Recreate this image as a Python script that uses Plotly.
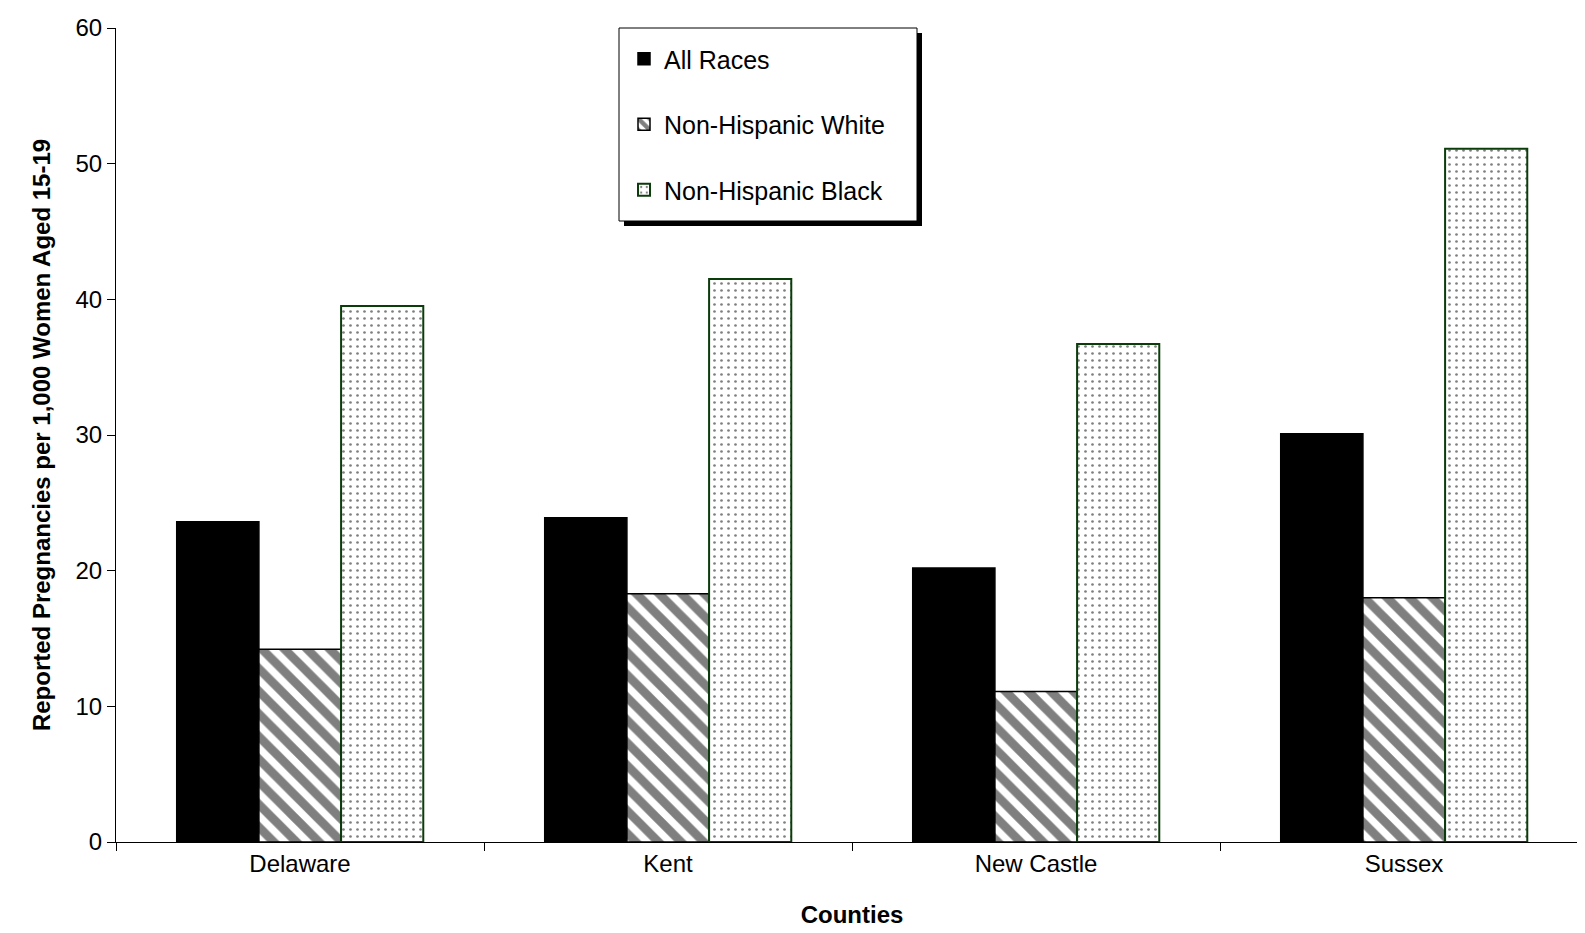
import plotly.graph_objects as go

counties = ["Delaware", "Kent", "New Castle", "Sussex"]
all_races = [23.6, 23.9, 20.2, 30.1]
nh_white = [14.2, 18.3, 11.1, 18.0]
nh_black = [39.5, 41.5, 36.7, 51.1]

fig = go.Figure()
fig.add_trace(go.Bar(x=counties, y=all_races, name="All Races", legendgroup="a",
                     marker=dict(color="black", line=dict(color="black", width=1.5))))
fig.add_trace(go.Bar(x=counties, y=nh_white, name="Non-Hispanic White", legendgroup="b",
                     marker=dict(color="white", line=dict(color="black", width=1.5),
                                 pattern=dict(shape="\\", fgcolor="black", bgcolor="white",
                                              size=16, solidity=0.55))))
fig.add_trace(go.Bar(x=counties, y=nh_black, name="Non-Hispanic Black", legendgroup="c",
                     marker=dict(color="white", line=dict(color="#0b3d0b", width=2),
                                 pattern=dict(shape=".", fgcolor="black", bgcolor="white",
                                              size=7, solidity=0.12))))

H = 814.0
def py(p):
    return (834 - p) / H
def px_(p):
    return (p - 108) / 1472.0

# legend box with drop shadow
fig.add_shape(type="rect", xref="paper", yref="paper",
              x0=px_(616), x1=px_(914), y0=py(218), y1=py(25),
              fillcolor="black", line=dict(width=0), layer="below")
fig.add_shape(type="rect", xref="paper", yref="paper",
              x0=px_(611), x1=px_(909), y0=py(213), y1=py(20),
              fillcolor="white", line=dict(color="black", width=1), layer="below")

fig.update_layout(
    width=1585, height=933,
    margin=dict(l=108, r=5, t=20, b=99),
    plot_bgcolor="white", paper_bgcolor="white",
    font=dict(family="Arial, Liberation Sans", size=24, color="black"),
    barmode="group", bargap=0.33, bargroupgap=0,
    showlegend=True,
    legend=dict(x=px_(616), y=py(28), xanchor="left", yanchor="top",
                bgcolor="rgba(0,0,0,0)", borderwidth=0,
                font=dict(size=25), tracegroupgap=30, itemwidth=30),
    xaxis=dict(title=dict(text="<b>Counties</b>", standoff=30, font=dict(size=24)),
               showline=True, automargin=False, tickfont=dict(size=24),
               linecolor="black", ticks="outside", tickson="boundaries",
               ticklen=8, tickcolor="black"),
    yaxis=dict(title=dict(text="<b>Reported Pregnancies per 1,000 Women Aged 15-19</b>",
                          standoff=18, font=dict(size=24)),
               automargin=False, tickfont=dict(size=24),
               range=[0, 60], dtick=10, showline=True, linecolor="black",
               ticks="outside", ticklen=8, tickcolor="black", showgrid=False,
               zeroline=False),
)

fig.write_html("out.html")
